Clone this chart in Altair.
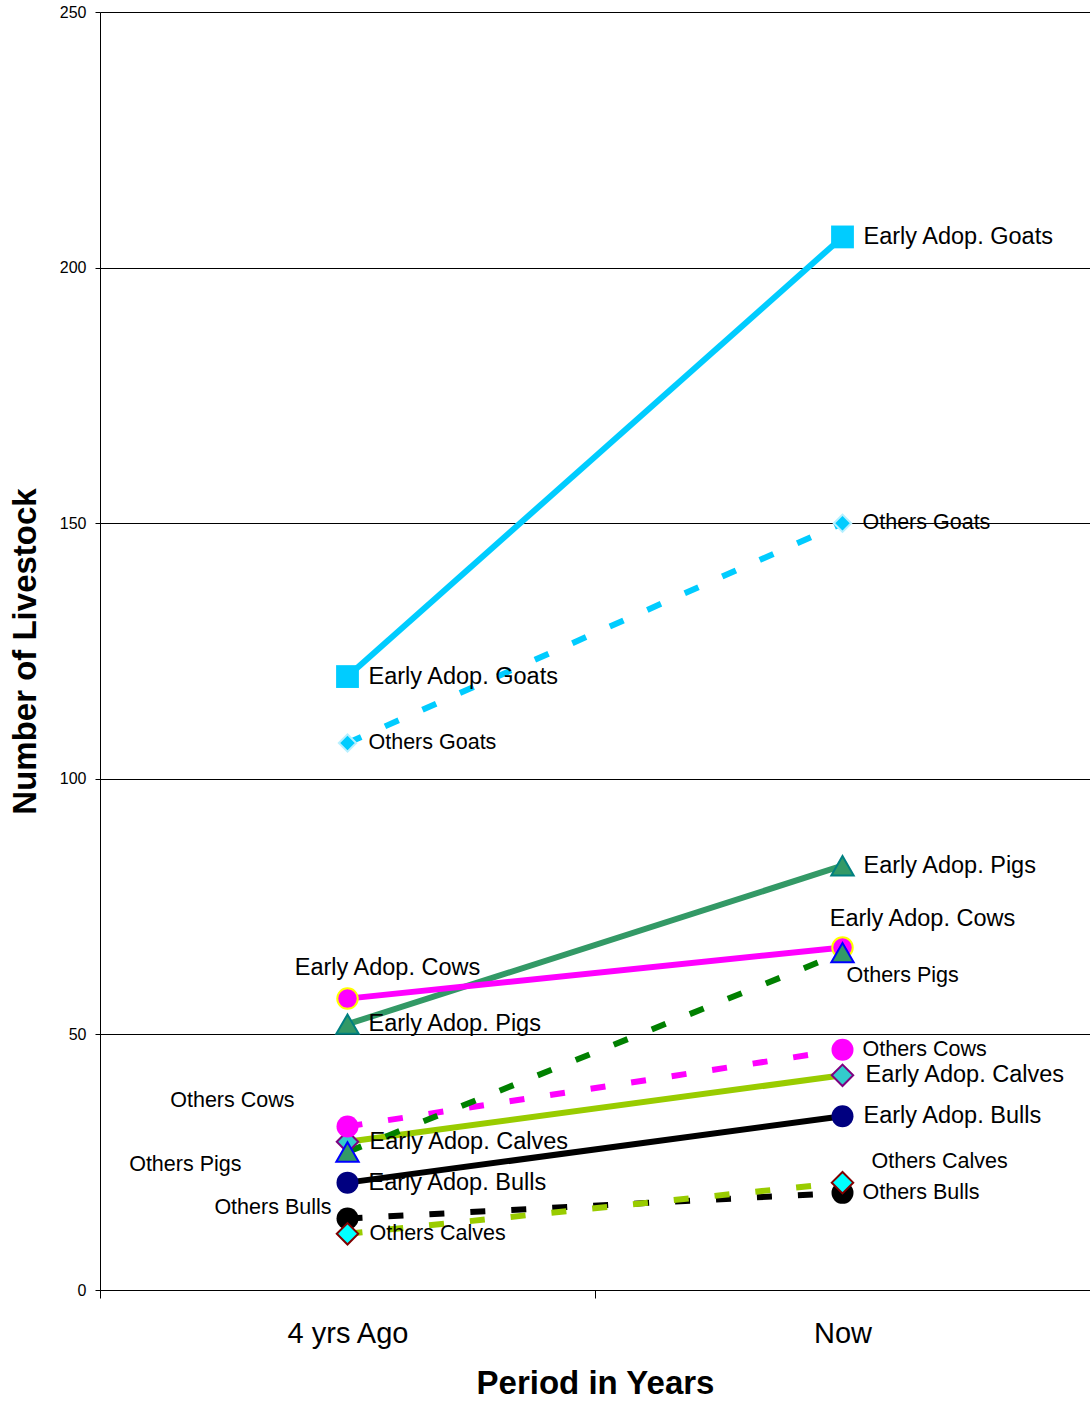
import altair as alt
import pandas as pd

# ---- data -------------------------------------------------------------
periods = ["4 yrs Ago", "Now"]
series = [
    "Early Adop. Goats", "Early Adop. Pigs", "Early Adop. Cows",
    "Early Adop. Calves", "Early Adop. Bulls",
    "Others Goats", "Others Cows", "Others Bulls", "Others Pigs", "Others Calves",
]
values_4yrs_ago = [120, 52, 57, 29, 21, 107, 32, 14, 27, 11]
values_now = [206, 83, 67, 42, 34, 150, 47, 19, 66, 21]

rows = []
for name, before, after in zip(series, values_4yrs_ago, values_now):
    rows.append({"series": name, "period": periods[0], "value": before})
    rows.append({"series": name, "period": periods[1], "value": after})
df = pd.DataFrame(rows)

# ---- styling ----------------------------------------------------------
FONT = "Liberation Sans"
W, H = 990, 1278
BAND = W / len(periods)
DASH = [15, 26]

STYLE = {
    "Early Adop. Goats":  dict(line="#00CCFF", dash=None, shape="square",        fill="#00CCFF", stroke="#00CCFF", sw=0, size=520),
    "Early Adop. Pigs":   dict(line="#339966", dash=None, shape="triangle-up",   fill="#339966", stroke="#008080", sw=2, size=500),
    "Early Adop. Cows":   dict(line="#FF00FF", dash=None, shape="circle",        fill="#FF00FF", stroke="#FFFF00", sw=2, size=420),
    "Early Adop. Calves": dict(line="#99CC00", dash=None, shape="diamond",       fill="#33CCCC", stroke="#800080", sw=2, size=460),
    "Early Adop. Bulls":  dict(line="#000000", dash=None, shape="circle",        fill="#000080", stroke="#000080", sw=0, size=484),
    "Others Goats":       dict(line="#00CCFF", dash=DASH, shape="diamond",       fill="#00CCFF", stroke="#B8F0FF", sw=2, size=300),
    "Others Cows":        dict(line="#FF00FF", dash=DASH, shape="circle",        fill="#FF00FF", stroke="#FF00FF", sw=0, size=484),
    "Others Bulls":       dict(line="#000000", dash=DASH, shape="circle",        fill="#000000", stroke="#000000", sw=0, size=484),
    "Others Pigs":        dict(line="#008000", dash=DASH, shape="triangle-up",   fill="#339966", stroke="#0000FF", sw=2, size=500),
    "Others Calves":      dict(line="#99CC00", dash=DASH, shape="diamond",       fill="#00FFFF", stroke="#800000", sw=2, size=460),
}

# label placement per series: (align, dx, dy) for each period
LABEL_POS = {
    "Early Adop. Goats":  [("left", 21, 0), ("left", 21, 0)],
    "Early Adop. Pigs":   [("left", 21, 0), ("left", 21, 0)],
    "Early Adop. Cows":   [("center", 40, -31), ("center", 80, -28)],
    "Early Adop. Calves": [("left", 22, 0), ("left", 23, 0)],
    "Early Adop. Bulls":  [("left", 21, 0), ("left", 21, 0)],
    "Others Goats":       [("left", 21, 0), ("left", 20, 0)],
    "Others Cows":        [("right", -53, -25), ("left", 20, 0)],
    "Others Bulls":       [("right", -16, -10), ("left", 20, 0)],
    "Others Pigs":        [("right", -106, 13), ("left", 4, 23)],
    "Others Calves":      [("left", 22, 0), ("left", 29, -21)],
}

# ---- encodings shared by every layer -----------------------------------
x_enc = alt.X(
    "period:N",
    scale=alt.Scale(domain=periods, paddingInner=0, paddingOuter=0),
    axis=alt.Axis(
        title="Period in Years",
        # ticks sit on the band edges, labels in the band centres
        tickOffset=-BAND / 2,
        labelOffset=BAND / 2,
        labelFontSize=29,
        labelColor="#000000",
        labelBaseline="alphabetic",
        labelPadding=44,
        labelAngle=0,
        tickSize=8,
        tickColor="#000000",
        domainColor="#000000",
        titleFontSize=33,
        titleFontWeight="bold",
        titleColor="#000000",
        titleBaseline="alphabetic",
        titleX=W / 2,
        titleY=103,
        grid=False,
    ),
)
y_enc = alt.Y(
    "value:Q",
    scale=alt.Scale(domain=[0, 250], nice=False),
    axis=alt.Axis(
        title="Number of Livestock",
        values=[0, 50, 100, 150, 200, 250],
        labelFontSize=16,
        labelColor="#000000",
        labelPadding=9,
        tickSize=5,
        tickColor="#000000",
        domainColor="#000000",
        grid=True,
        gridColor="#000000",
        gridWidth=1,
        titleFontSize=33,
        titleFontWeight="bold",
        titleColor="#000000",
        titleAngle=270,
        titleBaseline="alphabetic",
        titleX=-65,
        titleY=H / 2,
    ),
)

lines, markers, labels = [], [], []
for name in series:
    st = STYLE[name]
    base = alt.Chart(df).transform_filter(alt.datum.series == name)

    line_kw = dict(color=st["line"], strokeWidth=6, strokeCap="butt")
    if st["dash"]:
        line_kw["strokeDash"] = st["dash"]
    lines.append(base.mark_line(**line_kw).encode(x=x_enc, y=y_enc))

    markers.append(
        base.mark_point(
            shape=st["shape"], filled=True, fill=st["fill"], stroke=st["stroke"],
            strokeWidth=st["sw"], size=st["size"], opacity=1,
        ).encode(x=x_enc, y=y_enc)
    )

    size = 23.5 if name.startswith("Early") else 21.5
    for period, (align, dx, dy) in zip(periods, LABEL_POS[name]):
        labels.append(
            base.transform_filter(alt.datum.period == period)
            .mark_text(align=align, baseline="middle", dx=dx, dy=dy,
                       fontSize=size, font=FONT, color="#000000")
            .encode(x=x_enc, y=y_enc, text="series:N")
        )

chart = (
    alt.layer(*lines, *markers, *labels)
    .properties(
        width=W,
        height=H,
        autosize=alt.AutoSizeParams(type="none"),
        padding={"left": 100, "top": 12, "right": 0, "bottom": 114},
        background="#FFFFFF",
    )
    .configure_view(stroke=None)
    .configure(font=FONT)
)

chart.save("out.html", embed_options={"renderer": "svg", "actions": False})
